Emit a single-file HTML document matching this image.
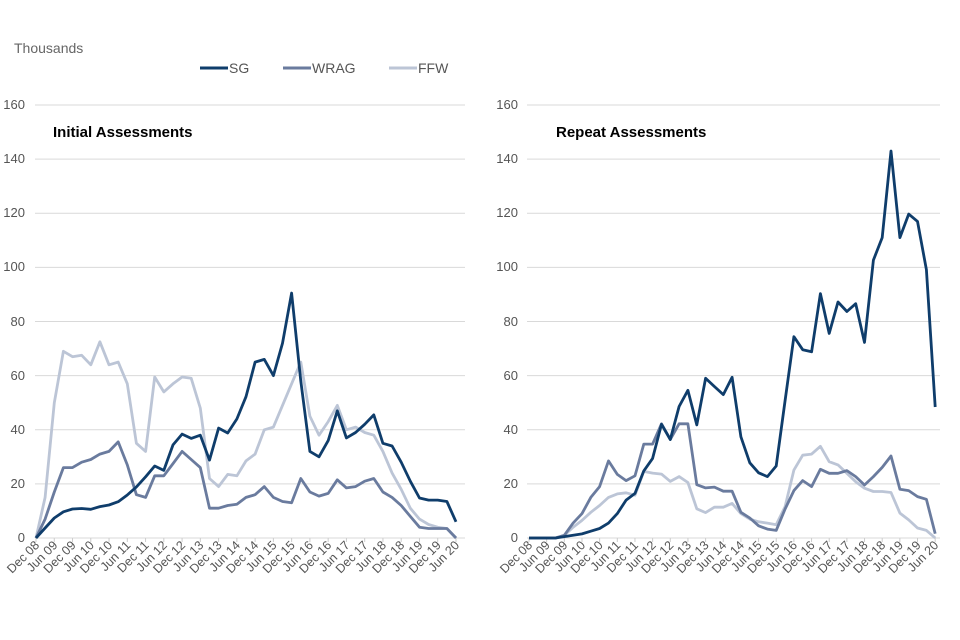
<!DOCTYPE html>
<html><head><meta charset="utf-8"><style>
body{margin:0;background:#fff;}
svg{display:block;font-family:"Liberation Sans",sans-serif;}
.yl{font-size:13px;fill:#555;text-anchor:end}
.xl{font-size:12.5px;fill:#555;text-anchor:end}
.g{stroke:#d9d9d9;stroke-width:1}
</style></head><body>
<svg id="s" width="960" height="640" viewBox="0 0 960 640">
<text x="14" y="53" font-size="14" fill="#666">Thousands</text>
<line x1="200" y1="68" x2="228" y2="68" stroke="#0f3d6b" stroke-width="3"/><text x="229" y="73" font-size="14" fill="#555">SG</text>
<line x1="283" y1="68" x2="311" y2="68" stroke="#6a7b9e" stroke-width="3"/><text x="312" y="73" font-size="14" fill="#555">WRAG</text>
<line x1="389" y1="68" x2="417" y2="68" stroke="#bcc5d6" stroke-width="3"/><text x="418" y="73" font-size="14" fill="#555">FFW</text>
<g id="grid"></g>
<text x="53" y="137" font-size="15" font-weight="bold" fill="#000">Initial  Assessments</text>
<text x="556" y="137" font-size="15" font-weight="bold" fill="#000">Repeat Assessments</text>
<g class="yl">
<text x="25" y="109">160</text><text x="25" y="163">140</text><text x="25" y="217">120</text><text x="25" y="271">100</text><text x="25" y="326">80</text><text x="25" y="380">60</text><text x="25" y="434">40</text><text x="25" y="488">20</text><text x="25" y="542">0</text>
<text x="518" y="109">160</text><text x="518" y="163">140</text><text x="518" y="217">120</text><text x="518" y="271">100</text><text x="518" y="326">80</text><text x="518" y="380">60</text><text x="518" y="434">40</text><text x="518" y="488">20</text><text x="518" y="542">0</text>
</g>
<g id="xl1" class="xl"></g><g id="xl2" class="xl"></g>
<g id="lines"></g>
</svg>
<script>
var L=["Dec 08","Jun 09","Dec 09","Jun 10","Dec 10","Jun 11","Dec 11","Jun 12","Dec 12","Jun 13","Dec 13","Jun 14","Dec 14","Jun 15","Dec 15","Jun 16","Dec 16","Jun 17","Dec 17","Jun 18","Dec 18","Jun 19","Dec 19","Jun 20"];
var NS="http://www.w3.org/2000/svg";
function el(t,a,p){var e=document.createElementNS(NS,t);for(var k in a)e.setAttribute(k,a[k]);p.appendChild(e);return e;}
var grid=document.getElementById('grid');
for(var v=0;v<=160;v+=20){var y=538-v*2.706;
el('line',{x1:35,x2:465,y1:y,y2:y,'class':'g',stroke:v==0?'#ccc':'#d9d9d9'},grid);
el('line',{x1:527,x2:940,y1:y,y2:y,'class':'g',stroke:v==0?'#ccc':'#d9d9d9'},grid);}
function labels(id,x0,st){var g=document.getElementById(id);for(var k=0;k<24;k++){var x=x0+st*k;
el('line',{x1:x,x2:x,y1:538,y2:542,stroke:'#ccc'},grid);
var t=el('text',{transform:'translate('+(x+4)+',546) rotate(-45)'},g);t.textContent=L[k];}}
labels('xl1',36,18.26);labels('xl2',529,17.66);
var D1={SG:[0,3.7,7.4,9.7,10.7,10.9,10.6,11.6,12.2,13.4,15.9,18.9,22.6,26.6,25,34.4,38.4,36.8,38,28.8,40.6,38.8,44,52.2,65,66,60,72,90.5,58,32,30,36,47,37,39,42,45.5,35,34,28,21,14.8,14,14,13.5,6],
WRAG:[0,7,17,26,26,28,29,31,32,35.5,27,16,15,23,23,27.5,32,29,26,11,11,12,12.5,15,16,19,15,13.5,13,22,17,15.5,16.5,21.5,18.5,19,21,22,17,15,12,8,4,3.5,3.5,3.5,0],
FFW:[0,15,50,69,67,67.5,64,72.5,64,65,57,35,32,59.5,54,57,59.5,59,48,22,19,23.5,23,28.5,31,40,41,49,57,65,45,38,43,49,40,41,39,38,32,24,18,11,7,5,4,3.5,0]};
var D2={SG:[0,0,0,0,0.5,1,1.5,2.5,3.5,5.5,9,14,16.5,24.8,29.4,42,36.4,48.6,54.6,41.8,59,56,53,59.4,37.4,27.8,24.1,22.7,26.6,50.8,74.4,69.6,68.8,90.3,75.6,87.2,83.7,86.6,72.3,102.7,111,143,111,119.7,117,99.2,48.4],
WRAG:[0,0,0,0,1,5.5,9,15,19,28.5,23.5,21.2,23,34.7,34.7,42.2,36.4,42.2,42.2,19.7,18.5,18.8,17.3,17.3,9.5,7.4,4.5,3.3,2.8,10.7,17.5,21.2,19,25.4,23.9,23.9,24.9,22.7,19.6,22.7,26.1,30.3,18,17.5,15.3,14.3,1.6],
FFW:[0,0,0,0,1,4,6.5,9.5,12,15,16.3,16.7,15.8,24.6,24,23.6,20.9,22.7,20.5,10.8,9.4,11.4,11.4,12.8,9,7,6,5.5,4.9,11.6,25.1,30.6,31,33.9,28.2,27,23.9,20.8,18.4,17.2,17.2,16.8,9.2,6.7,3.7,2.8,0]};
var C={FFW:'#bcc5d6',WRAG:'#6a7b9e',SG:'#0f3d6b'};
var lg=document.getElementById('lines');
function draw(D,x0,st){['FFW','WRAG','SG'].forEach(function(s){var p=D[s].map(function(v,i){return (x0+st*i).toFixed(1)+','+(538-v*2.706).toFixed(1)}).join(' ');
el('polyline',{points:p,fill:'none',stroke:C[s],'stroke-width':2.8,'stroke-linejoin':'round'},lg);});}
draw(D1,36,9.13);draw(D2,529,8.83);
</script>
</body></html>
